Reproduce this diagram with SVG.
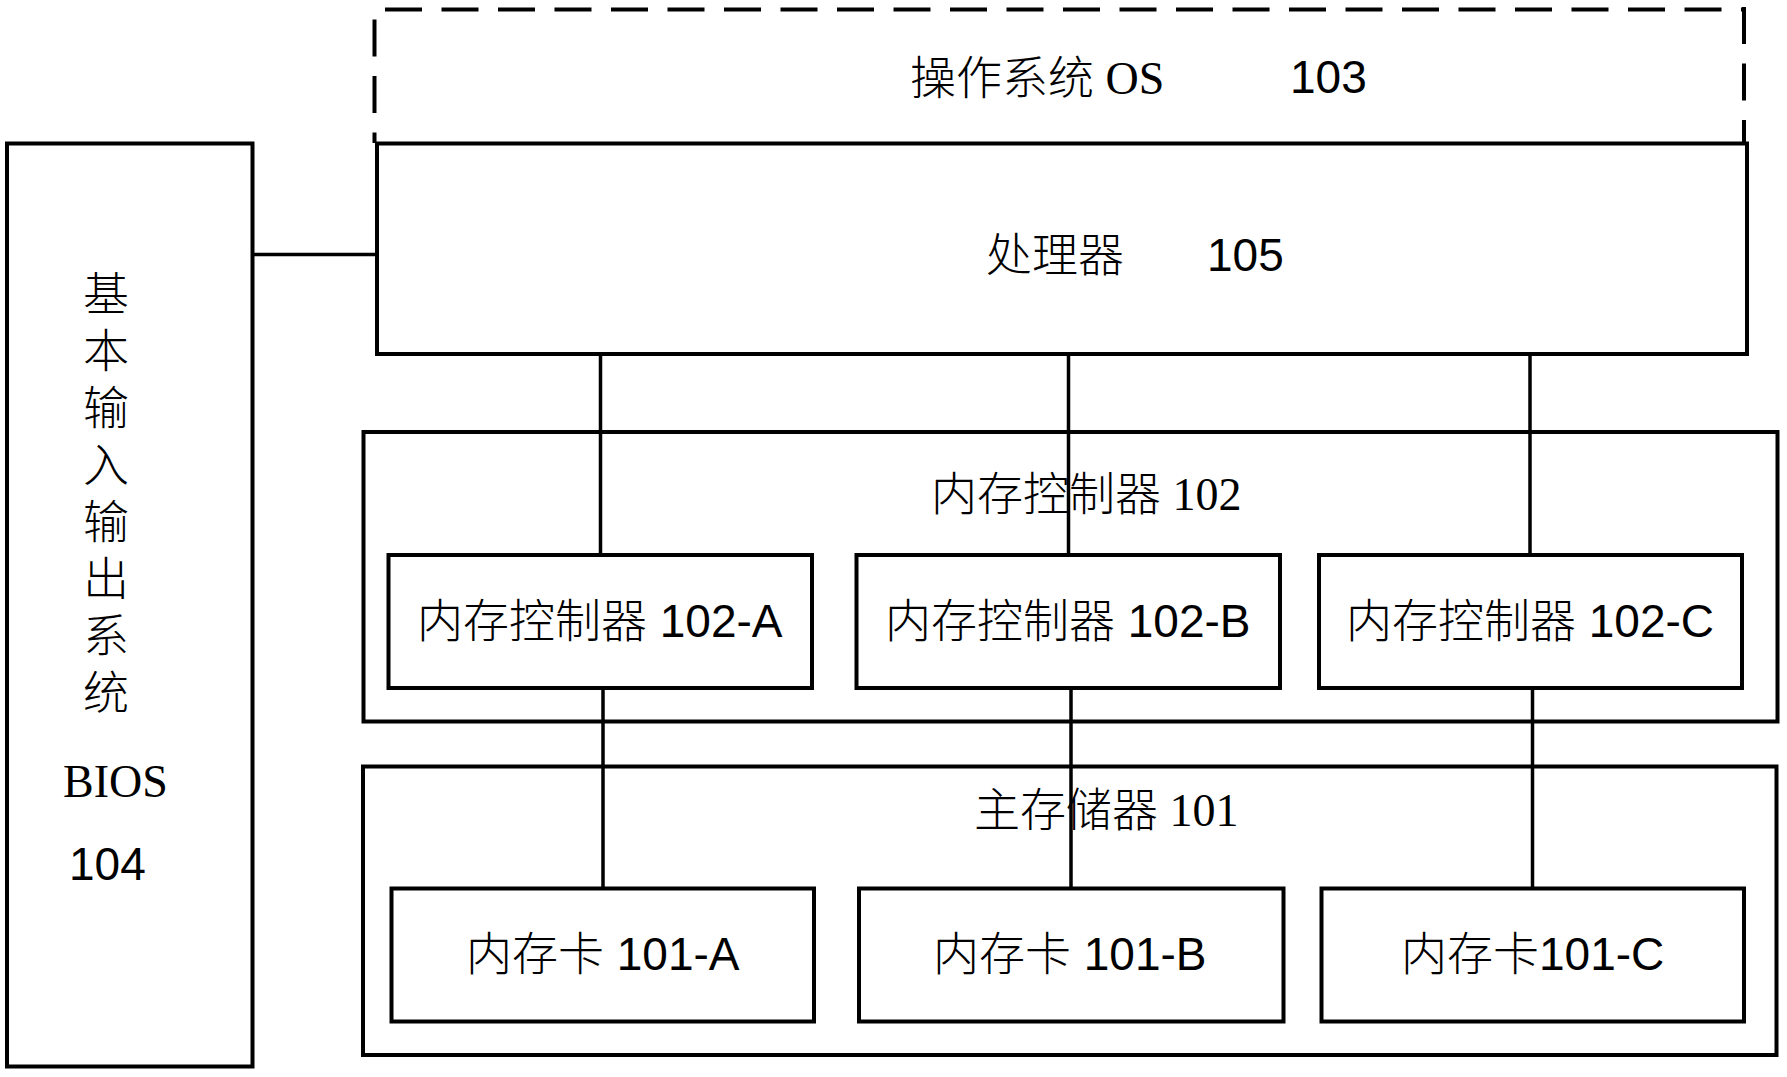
<svg xmlns="http://www.w3.org/2000/svg" width="1787" height="1077" viewBox="0 0 1787 1077">
<style>
.box{fill:none;stroke:#000;stroke-width:4}
.dash{fill:none;stroke:#000;stroke-width:4;stroke-dasharray:37 19.5}
.conn{fill:none;stroke:#000;stroke-width:3.5}
.sans{font-family:"Liberation Sans","Noto Sans CJK SC",sans-serif;font-size:46px;font-weight:300;fill:#000}
.serif{font-family:"Liberation Serif","Noto Sans CJK SC",serif;font-size:46px;font-weight:300;fill:#000}
.v{text-anchor:middle}
</style>
<rect width="1787" height="1077" fill="#fff"/>
<g id="os103">
<line class="dash" x1="374.5" y1="10" x2="374.5" y2="143" stroke-dashoffset="47"/>
<line class="dash" x1="374.5" y1="9.5" x2="1744" y2="9.5" stroke-dashoffset="46"/>
<line class="dash" x1="1744" y1="7" x2="1744" y2="143" stroke-dashoffset="0"/>
<text class="serif" x="910" y="94">操作系统 OS</text>
<text class="sans" x="1290" y="93">103</text>
</g>
<g id="bios104">
<rect class="box" x="7" y="143.5" width="245.5" height="923"/>
<text class="sans v" x="106" y="310">基</text>
<text class="sans v" x="106" y="367">本</text>
<text class="sans v" x="106" y="424">输</text>
<text class="sans v" x="106" y="481">入</text>
<text class="sans v" x="106" y="538">输</text>
<text class="sans v" x="106" y="595">出</text>
<text class="sans v" x="106" y="652">系</text>
<text class="sans v" x="106" y="709">统</text>
<text class="serif" x="63" y="797">BIOS</text>
<text class="sans" x="69" y="880">104</text>
</g>
<g id="cpu105">
<rect class="box" x="377" y="143.5" width="1370" height="210.5"/>
<text class="sans" x="986" y="271">处理器</text>
<text class="sans" x="1207" y="271">105</text>
</g>
<g id="mc102">
<rect class="box" x="363.5" y="432" width="1414" height="289.5"/>
<text class="serif" x="931" y="510">内存控制器 102</text>
</g>
<g id="mc102A">
<rect class="box" x="388.5" y="555" width="423.5" height="133"/>
<text class="sans" x="417" y="637">内存控制器 102-A</text>
</g>
<g id="mc102B">
<rect class="box" x="856.5" y="555" width="423.5" height="133"/>
<text class="sans" x="885" y="637">内存控制器 102-B</text>
</g>
<g id="mc102C">
<rect class="box" x="1319" y="555" width="423" height="133"/>
<text class="sans" x="1346" y="637">内存控制器 102-C</text>
</g>
<g id="mem101">
<rect class="box" x="363" y="766.5" width="1413.5" height="288.5"/>
<text class="serif" x="974" y="826">主存储器 101</text>
</g>
<g id="card101A">
<rect class="box" x="391.5" y="888.5" width="422.5" height="133"/>
<text class="sans" x="466" y="970">内存卡 101-A</text>
</g>
<g id="card101B">
<rect class="box" x="859" y="888.5" width="424.5" height="133"/>
<text class="sans" x="933" y="970">内存卡 101-B</text>
</g>
<g id="card101C">
<rect class="box" x="1321.5" y="888.5" width="422.5" height="133"/>
<text class="sans" x="1401" y="970">内存卡101-C</text>
</g>
<g id="connectors">
<line class="conn" x1="252.5" y1="254.5" x2="377" y2="254.5"/>
<line class="conn" x1="600.5" y1="354" x2="600.5" y2="555"/>
<line class="conn" x1="1068.5" y1="354" x2="1068.5" y2="555"/>
<line class="conn" x1="1530" y1="354" x2="1530" y2="555"/>
<line class="conn" x1="603" y1="688" x2="603" y2="888.5"/>
<line class="conn" x1="1071" y1="688" x2="1071" y2="888.5"/>
<line class="conn" x1="1532.5" y1="688" x2="1532.5" y2="888.5"/>
</g>
</svg>
